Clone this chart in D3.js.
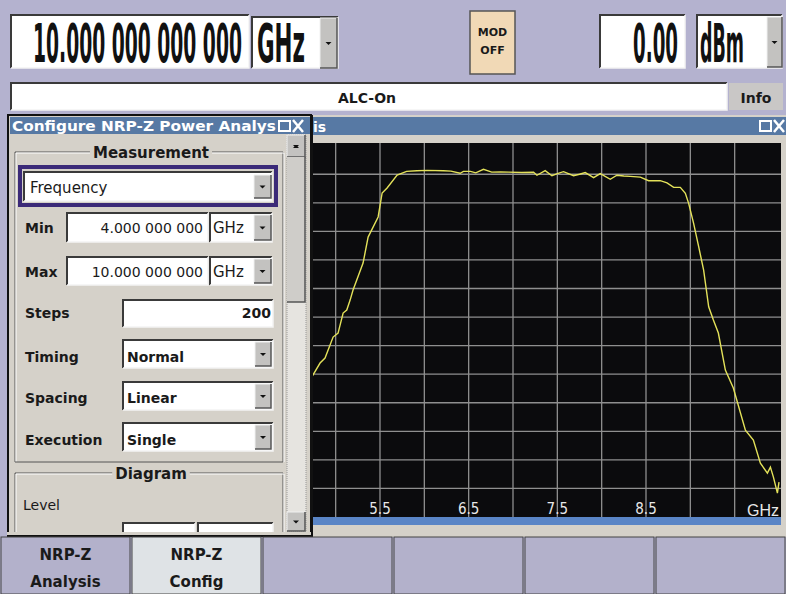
<!DOCTYPE html>
<html>
<head>
<meta charset="utf-8">
<script src="https://cdn.jsdelivr.net/npm/d3@7"></script>
<style>
  body { margin: 0; background: #b4b2cf; }
  svg { display: block; }
</style>
</head>
<body>
<div id="screen"></div>
<script>
/* global d3 */
const width = 786
const height = 594

// trace (GHz / dB)
const freqGHz = [4.73, 4.824, 4.88, 4.971, 5.027, 5.084, 5.125, 5.163, 5.196, 5.309, 5.366, 5.479, 5.524, 5.58, 5.693, 5.8, 5.915, 6.03, 6.216, 6.3, 6.404, 6.441, 6.52, 6.58, 6.667, 6.76, 6.856, 6.95, 7.1, 7.232, 7.27, 7.363, 7.439, 7.5, 7.57, 7.683, 7.75, 7.815, 7.909, 7.984, 8.097, 8.173, 8.25, 8.323, 8.436, 8.529, 8.661, 8.737, 8.812, 8.887, 8.944, 8.981, 9.037, 9.094, 9.15, 9.207, 9.26, 9.316, 9.395, 9.485, 9.621, 9.711, 9.79, 9.869, 9.903, 9.937, 9.982, 10.0]
const levelDb = [-14.2, -13.22, -12.87, -11.4, -11.12, -9.72, -9.51, -8.81, -8.11, -6.22, -4.4, -2.99, -1.31, -0.96, -0.05, 0.2, 0.25, 0.27, 0.25, 0.22, 0.07, 0.2, 0.2, 0.1, 0.35, 0.15, 0.16, 0.15, 0.12, 0.14, -0.07, 0.25, -0.1, 0.05, 0.18, -0.1, 0.0, 0.12, -0.24, 0.05, -0.35, -0.07, -0.12, -0.15, -0.2, -0.45, -0.45, -0.6, -0.92, -0.92, -1.34, -2.04, -3.44, -5.07, -6.71, -9.28, -10.21, -11.12, -13.71, -14.97, -17.92, -18.62, -20.23, -20.93, -20.51, -21.21, -22.33, -21.56]
const tickLabels = [4.5, 5.5, 6.5, 7.5, 8.5]
const softkeys = [['NRP-Z', 'Analysis'], ['NRP-Z', 'Config'], [], [], [], []]

const uiFont = 'DejaVu Sans, sans-serif'
const bigFont = 'DejaVu Sans Condensed, DejaVu Sans, sans-serif'
const panelFill = '#d5d1c9'
const titleBlue = '#5779a4'

const svg = d3.select('#screen')
  .append('svg')
  .attr('width', width)
  .attr('height', height)

svg.append('rect').attr('width', width).attr('height', height).attr('fill', '#b4b2cf')

function sunken (g, x, y, w, h, fill) {
  g.append('rect').attr('x', x).attr('y', y).attr('width', w).attr('height', h).attr('fill', fill || '#fff')
  g.append('path').attr('d', `M${x},${y + h}V${y}H${x + w}`).attr('stroke', '#3a3a3a').attr('stroke-width', 2).attr('fill', 'none')
  g.append('path').attr('d', `M${x + w},${y}V${y + h}H${x}`).attr('stroke', '#f4f4f4').attr('stroke-width', 1.5).attr('fill', 'none')
}

function dropBtn (g, x, y, w, h) {
  g.append('rect').attr('x', x).attr('y', y).attr('width', w).attr('height', h).attr('fill', '#c3c2c0')
  g.append('path').attr('d', `M${x},${y + h}V${y}H${x + w}`).attr('stroke', '#f0f0f0').attr('fill', 'none')
  g.append('path').attr('d', `M${x + w},${y}V${y + h}H${x}`).attr('stroke', '#555').attr('stroke-width', 1.5).attr('fill', 'none')
  const cx = x + w / 2
  const cy = y + h / 2
  g.append('path').attr('d', `M${cx - 3},${cy - 1}h6l-3,3z`).attr('fill', '#111')
}

// text; with o.len the glyphs are squeezed horizontally to that width
function label (g, x, y, txt, opts) {
  const o = opts || {}
  const t = g.append('text')
    .attr('font-family', o.family || uiFont)
    .attr('font-size', o.size || 14)
    .attr('font-weight', o.weight || 'bold')
    .attr('fill', o.fill || '#1a1a1a')
    .attr('text-anchor', o.anchor || 'start')
    .text(txt)
  if (o.len) {
    const sx = o.len / t.node().getComputedTextLength()
    t.attr('transform', `translate(${x},${y}) scale(${sx},1)`)
  } else {
    t.attr('x', x).attr('y', y)
  }
  return t
}

// ---- top row: frequency, MOD, level
const head = svg.append('g')
sunken(head, 11, 15, 238, 53)
label(head, 33, 62, '10.000 000 000 000', { family: bigFont, size: 54, len: 209, fill: '#111' })
sunken(head, 252, 17, 86, 51)
label(head, 257, 62, 'GHz', { family: bigFont, size: 54, len: 48, fill: '#111' })
dropBtn(head, 320, 18, 17, 50)

head.append('rect').attr('x', 470).attr('y', 11).attr('width', 45).attr('height', 63)
  .attr('fill', '#f1d9b6').attr('stroke', '#555').attr('stroke-width', 1.5)
label(head, 492.5, 36, 'MOD', { size: 11, anchor: 'middle' })
label(head, 492.5, 54, 'OFF', { size: 11, anchor: 'middle' })

sunken(head, 600, 15, 85, 53)
label(head, 678, 62, '0.00', { family: bigFont, size: 54, len: 45, anchor: 'end', fill: '#111' })
sunken(head, 697, 15, 85, 53)
label(head, 700, 62, 'dBm', { family: bigFont, size: 54, len: 44, fill: '#111' })
dropBtn(head, 767, 17, 15, 50)

// ---- status line
sunken(head, 11, 83, 716, 27)
label(head, 367, 103, 'ALC-On', { size: 14, anchor: 'middle' })
head.append('rect').attr('x', 729).attr('y', 83).attr('width', 54).attr('height', 27).attr('fill', '#c9c7c6')
label(head, 756, 103, 'Info', { size: 14, anchor: 'middle' })

// ---- diagram window
const win = svg.append('g')
win.append('rect').attr('x', 300).attr('y', 115).attr('width', 486).attr('height', 422).attr('fill', panelFill)
win.append('rect').attr('x', 300).attr('y', 117).attr('width', 486).attr('height', 18).attr('fill', titleBlue)
label(win, 313, 132, 'is', { size: 14, fill: '#fff' })
win.append('rect').attr('x', 760).attr('y', 121).attr('width', 11).attr('height', 10).attr('fill', 'none').attr('stroke', '#fff').attr('stroke-width', 2)
win.append('path').attr('d', 'M774,120l10,12M784,120l-10,12').attr('stroke', '#fff').attr('stroke-width', 2.5)

const plot = { left: 240, right: 781, top: 143, bottom: 517 }
const x = d3.scaleLinear().domain([4, 10]).range([247, 779])
const y = d3.scaleLinear().domain([-24, 2]).range([517, 145.7])

win.append('rect').attr('x', plot.left).attr('y', plot.top)
  .attr('width', plot.right - plot.left).attr('height', plot.bottom - plot.top).attr('fill', '#0b0b0d')

const grid = win.append('g').attr('stroke', '#8f8f8f').attr('stroke-width', 1.3)
grid.selectAll('line.v')
  .data(x.ticks(12).filter(d => d > 4 && d < 10))
  .enter().append('line')
  .attr('class', 'v')
  .attr('x1', d => x(d)).attr('x2', d => x(d))
  .attr('y1', plot.top).attr('y2', plot.bottom)
grid.selectAll('line.h')
  .data(y.ticks(13).filter(d => d > -24 && d < 2))
  .enter().append('line')
  .attr('class', 'h')
  .attr('x1', plot.left).attr('x2', plot.right)
  .attr('y1', d => y(d)).attr('y2', d => y(d))

win.append('clipPath').attr('id', 'plotclip')
  .append('rect').attr('x', plot.left).attr('y', plot.top)
  .attr('width', plot.right - plot.left).attr('height', plot.bottom - plot.top)

const trace = freqGHz.map((f, i) => ({ f, v: levelDb[i] }))
const line = d3.line().x(d => x(d.f)).y(d => y(d.v))
win.append('path')
  .datum(trace)
  .attr('clip-path', 'url(#plotclip)')
  .attr('d', line)
  .attr('fill', 'none')
  .attr('stroke', '#e4e25a')
  .attr('stroke-width', 1.4)

win.selectAll('text.tick')
  .data(tickLabels)
  .enter().append('text')
  .attr('class', 'tick')
  .attr('x', d => x(d)).attr('y', 514)
  .attr('text-anchor', 'middle')
  .attr('font-family', 'Liberation Sans Narrow, DejaVu Sans Condensed, sans-serif')
  .attr('font-size', 15)
  .attr('fill', '#e8e8e8')
  .text(d => d)
label(win, 779, 516, 'GHz', { family: 'Liberation Sans Narrow, sans-serif', size: 16, weight: 'normal', anchor: 'end', fill: '#e8e8e8' })
win.append('rect').attr('x', plot.left).attr('y', 517).attr('width', plot.right - plot.left).attr('height', 8).attr('fill', '#5a85c6')

// ---- configuration panel
const pan = svg.append('g')
pan.append('rect').attr('x', 8).attr('y', 115).attr('width', 303).attr('height', 421)
  .attr('fill', panelFill).attr('stroke', '#111').attr('stroke-width', 2)
pan.append('rect').attr('x', 10).attr('y', 117).attr('width', 300).attr('height', 17).attr('fill', titleBlue)
label(pan, 12, 131, 'Configure NRP-Z Power Analys', { size: 14, fill: '#fff', len: 264 })
pan.append('rect').attr('x', 279).attr('y', 121).attr('width', 11).attr('height', 10).attr('fill', 'none').attr('stroke', '#fff').attr('stroke-width', 2)
pan.append('path').attr('d', 'M293,120l10,12M303,120l-10,12').attr('stroke', '#fff').attr('stroke-width', 2.5)

// scroll bar
pan.append('rect').attr('x', 287).attr('y', 135).attr('width', 19).attr('height', 397).attr('fill', '#e6e4e0')
pan.append('rect').attr('x', 287).attr('y', 135).attr('width', 19).attr('height', 397).attr('fill', 'none').attr('stroke', '#999').attr('stroke-dasharray', '1,1')
dropBtn(pan, 287, 135, 18, 22)
pan.append('path').attr('d', 'M293,148h6l-3,-3z').attr('fill', '#111')
pan.append('rect').attr('x', 287).attr('y', 157).attr('width', 18).attr('height', 145).attr('fill', '#cfcdc9')
pan.append('path').attr('d', 'M305,157V302H287').attr('stroke', '#555').attr('stroke-width', 1.5).attr('fill', 'none')
dropBtn(pan, 287, 512, 18, 19)

// group boxes
function group (g, x0, y0, x1, y1, title, cx) {
  g.append('path').attr('d', `M${x0},${y1}V${y0}H${x1}V${y1}`).attr('stroke', '#555').attr('fill', 'none')
  g.append('path').attr('d', `M${x0 + 1},${y1}V${y0 + 1}H${x1 + 1}V${y1}`).attr('stroke', '#fff').attr('fill', 'none')
  const t = label(g, cx, y0 + 6, title, { size: 15, anchor: 'middle' })
  const bb = t.node().getBBox()
  g.insert('rect', 'text:last-of-type').attr('x', bb.x - 3).attr('y', y0 - 2).attr('width', bb.width + 6).attr('height', 5).attr('fill', panelFill)
}
group(pan, 15, 152, 283, 462, 'Measurement', 151)
pan.append('path').attr('d', 'M15,462H283').attr('stroke', '#555')
group(pan, 15, 473, 283, 536, 'Diagram', 151)

// frequency selector with focus frame
pan.append('rect').attr('x', 20).attr('y', 167).attr('width', 256).attr('height', 38).attr('fill', 'none').attr('stroke', '#3b2a78').attr('stroke-width', 4)
sunken(pan, 24, 172, 248, 29)
label(pan, 30, 193, 'Frequency', { size: 15, weight: 'normal' })
dropBtn(pan, 254, 175, 17, 23)

// min / max
label(pan, 25, 233, 'Min', { size: 14 })
sunken(pan, 67, 213, 141, 29)
label(pan, 203, 233, '4.000 000 000', { size: 14, weight: 'normal', anchor: 'end' })
sunken(pan, 210, 213, 62, 29)
label(pan, 213, 233, 'GHz', { size: 15, weight: 'normal' })
dropBtn(pan, 254, 215, 17, 25)

label(pan, 25, 277, 'Max', { size: 14 })
sunken(pan, 67, 257, 141, 28)
label(pan, 203, 277, '10.000 000 000', { size: 14, weight: 'normal', anchor: 'end' })
sunken(pan, 210, 257, 62, 28)
label(pan, 213, 277, 'GHz', { size: 15, weight: 'normal' })
dropBtn(pan, 254, 259, 17, 24)

// steps and selectors
label(pan, 25, 318, 'Steps', { size: 14 })
sunken(pan, 123, 300, 150, 27)
label(pan, 271, 318, '200', { size: 14, anchor: 'end' })

const rows = [['Timing', 'Normal', 340, 362], ['Spacing', 'Linear', 382, 403], ['Execution', 'Single', 423, 445]]
rows.forEach(r => {
  label(pan, 25, r[3], r[0], { size: 14 })
  sunken(pan, 123, r[2], 150, 28)
  label(pan, 127, r[3], r[1], { size: 14 })
  dropBtn(pan, 255, r[2] + 2, 16, 24)
})

label(pan, 23, 510, 'Level', { size: 14, weight: 'normal' })
sunken(pan, 123, 523, 72, 12)
sunken(pan, 198, 523, 75, 12)
pan.append('rect').attr('x', 7).attr('y', 532).attr('width', 305).attr('height', 5).attr('fill', panelFill)
pan.append('path').attr('d', 'M7,536H312V115').attr('stroke', '#111').attr('stroke-width', 2).attr('fill', 'none')

// ---- softkey bar
const keyW = width / softkeys.length
const keys = svg.append('g')
keys.selectAll('rect')
  .data(softkeys)
  .enter().append('rect')
  .attr('x', (d, i) => i * keyW + 1).attr('y', 537)
  .attr('width', keyW - 2).attr('height', 57)
  .attr('fill', (d, i) => i === 1 ? '#dfe3e6' : '#b3b1cb')
  .attr('stroke', '#444').attr('stroke-width', 1)
softkeys.forEach((k, i) => {
  if (!k.length) return
  label(keys, i * keyW + keyW / 2, 560, k[0], { size: 15, anchor: 'middle' })
  label(keys, i * keyW + keyW / 2, 587, k[1], { size: 15, anchor: 'middle' })
})
</script>
</body>
</html>
